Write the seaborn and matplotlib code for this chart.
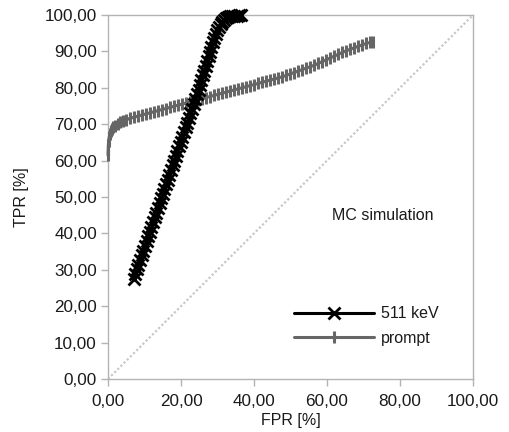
import matplotlib
matplotlib.use("Agg")
import matplotlib.pyplot as plt
import matplotlib.ticker as mticker
import seaborn as sns

# ROC points, 511 keV photopeak selection (FPR %, TPR %)
fpr_511 = [7.00, 7.45, 7.89, 8.34, 8.78, 9.23, 9.67, 10.12, 10.56, 11.01,
           11.45, 11.90, 12.34, 12.79, 13.23, 13.68, 14.12, 14.57, 15.01, 15.46,
           15.90, 16.35, 16.79, 17.24, 17.68, 18.13, 18.58, 19.02, 19.47, 19.91,
           20.36, 20.80, 21.25, 21.69, 22.14, 22.58, 23.03, 23.47, 23.92, 24.36,
           24.80, 25.20, 25.60, 26.00, 26.39, 26.78, 27.17, 27.56, 27.95, 28.34,
           28.74, 29.14, 29.55, 29.98, 30.42, 30.88, 31.36, 31.86, 32.38, 32.92,
           33.48, 34.05, 34.62, 35.20, 35.78, 36.35]
tpr_511 = [27.5, 28.8, 30.1, 31.4, 32.7, 34.0, 35.3, 36.6, 37.9, 39.2,
           40.5, 41.8, 43.1, 44.4, 45.7, 47.0, 48.3, 49.6, 50.9, 52.2,
           53.5, 54.8, 56.1, 57.4, 58.7, 60.0, 61.3, 62.6, 63.9, 65.2,
           66.5, 67.8, 69.1, 70.4, 71.7, 73.0, 74.3, 75.6, 76.9, 78.2,
           79.5, 80.8, 82.1, 83.4, 84.7, 86.0, 87.3, 88.6, 89.9, 91.2,
           92.5, 93.7, 94.8, 95.8, 96.7, 97.5, 98.2, 98.7, 99.1, 99.4,
           99.6, 99.7, 99.8, 99.8, 99.9, 99.9]

# ROC points, prompt gamma selection (FPR %, TPR %)
fpr_prompt = [0.00, 0.05, 0.10, 0.20, 0.35, 0.55, 0.80, 1.10, 1.50, 2.00,
              2.60, 3.30, 4.10, 5.00, 6.00, 7.00, 8.10, 9.20, 10.3, 11.4,
              12.5, 13.6, 14.7, 15.8, 16.9, 18.0, 19.1, 20.2, 21.3, 22.4,
              23.5, 24.6, 25.7, 26.8, 27.9, 29.0, 30.1, 31.2, 32.3, 33.4,
              34.5, 35.6, 36.7, 37.8, 38.9, 40.0, 41.1, 42.2, 43.3, 44.4,
              45.5, 46.6, 47.7, 48.8, 49.9, 51.0, 52.1, 53.2, 54.3, 55.4,
              56.5, 57.6, 58.7, 59.8, 60.9, 62.0, 63.1, 64.2, 65.3, 66.4,
              67.5, 68.6, 69.7, 70.8, 71.9, 72.5]
tpr_prompt = [61.5, 63.0, 64.3, 65.5, 66.5, 67.3, 68.0, 68.6, 69.1, 69.6,
              70.1, 70.5, 70.9, 71.2, 71.6, 71.9, 72.2, 72.5, 72.8, 73.1,
              73.4, 73.7, 74.0, 74.3, 74.6, 74.9, 75.2, 75.5, 75.8, 76.1,
              76.4, 76.7, 77.0, 77.3, 77.6, 77.9, 78.2, 78.5, 78.8, 79.1,
              79.4, 79.7, 80.0, 80.3, 80.6, 80.9, 81.2, 81.5, 81.8, 82.1,
              82.4, 82.7, 83.0, 83.4, 83.8, 84.2, 84.6, 85.0, 85.4, 85.8,
              86.2, 86.7, 87.2, 87.7, 88.2, 88.7, 89.2, 89.7, 90.2, 90.6,
              91.0, 91.4, 91.8, 92.2, 92.5, 92.7]

# chance line
diag = [0, 100]
ticks = [0, 20, 40, 60, 80, 100]
yticks = [0, 10, 20, 30, 40, 50, 60, 70, 80, 90, 100]

sns.set_theme(style="white")
plt.rcParams["font.family"] = ["Liberation Sans", "DejaVu Sans"]

fig = plt.figure(figsize=(5.10, 4.32), dpi=100)
ax = fig.add_axes([0.2118, 0.1227, 0.7157, 0.8426])

grey_axis = "#b3b3b3"
text_col = "#1a1a1a"

sns.lineplot(x=diag, y=diag, ax=ax, color="#c8c8c8", linestyle=(0, (1, 1)),
             linewidth=1.6, estimator=None, legend=False)

sns.lineplot(x=fpr_511, y=tpr_511, ax=ax, color="black", linewidth=2.2,
             marker="x", markersize=9, markeredgewidth=2.0,
             markeredgecolor="black", estimator=None, sort=False,
             label="511 keV", clip_on=False, zorder=4)
sns.lineplot(x=fpr_prompt, y=tpr_prompt, ax=ax, color="#666666", linewidth=2.2,
             marker="|", markersize=9, markeredgewidth=2.2,
             markeredgecolor="#666666", estimator=None, sort=False,
             label="prompt", clip_on=False, zorder=3)

ax.set_xlim(0, 100)
ax.set_ylim(0, 100)
ax.set_xticks(ticks)
ax.set_yticks(yticks)
fmt = mticker.FuncFormatter(lambda v, p: f"{v:.2f}".replace(".", ","))
ax.xaxis.set_major_formatter(fmt)
ax.yaxis.set_major_formatter(fmt)

for s in ax.spines.values():
    s.set_color(grey_axis)
    s.set_linewidth(1.0)
ax.tick_params(axis="both", which="major", direction="out", length=5,
               width=1.0, color=grey_axis, labelsize=12.3, labelcolor=text_col,
               bottom=True, left=True)
ax.tick_params(axis="x", pad=6)
ax.tick_params(axis="y", pad=3)

ax.set_xlabel("FPR [%]", fontsize=11.5, color=text_col, labelpad=3)
ax.set_ylabel("TPR [%]", fontsize=11.5, color=text_col, labelpad=11)

ax.text(61.5, 44.8, "MC simulation", fontsize=11.5, color=text_col,
        va="center", ha="left")

leg = ax.legend(loc="lower left", bbox_to_anchor=(0.493, 0.073), frameon=False,
                fontsize=11.5, handlelength=5.0, handletextpad=0.45,
                labelspacing=0.62, borderaxespad=0)
for t in leg.get_texts():
    t.set_color(text_col)

fig.savefig("out.png", dpi=100)
